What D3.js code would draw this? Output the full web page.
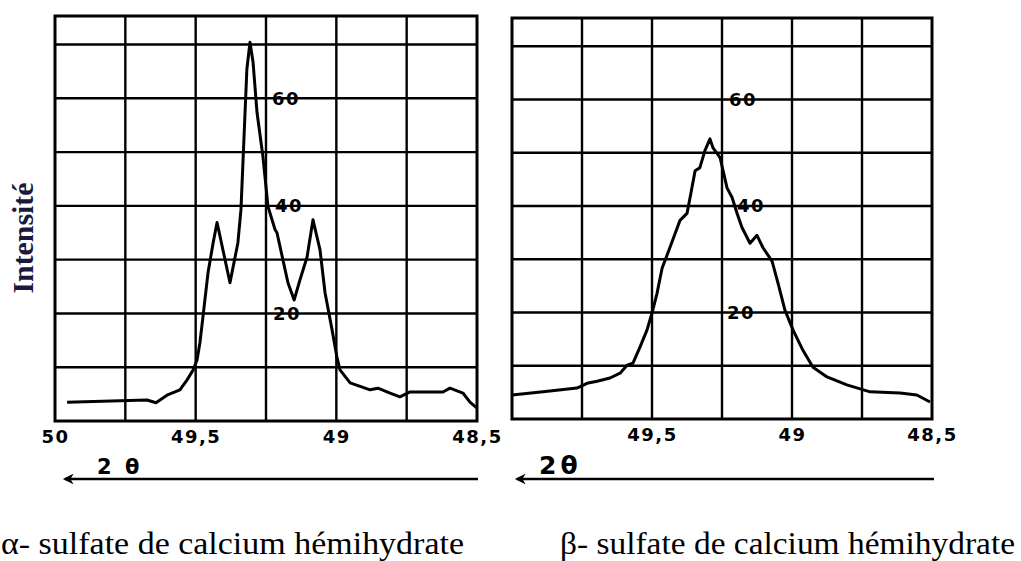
<!DOCTYPE html>
<html><head><meta charset="utf-8">
<script src="https://cdn.jsdelivr.net/npm/d3@7"></script>
<style>body{margin:0;background:#fff;} svg{display:block}
.serif{font-family:"Liberation Serif","Times New Roman",Times,"DejaVu Serif",serif;}
</style>
</head><body>
<svg id="c" width="1021" height="561"></svg>
<script>
// ---- data ----
const alphaTheta = [49.957,49.80,49.673,49.641,49.602,49.556,49.531,49.509,49.495,49.485,49.474,49.456,49.438,49.424,49.378,49.350,49.339,49.332,49.318,49.307,49.296,49.282,49.261,49.243,49.218,49.211,49.190,49.172,49.150,49.129,49.104,49.083,49.058,49.040,49.015,48.998,48.987,48.951,48.880,48.852,48.809,48.774,48.738,48.621,48.596,48.550,48.525,48.500];
const alphaIntensity = [3.5,3.7,3.9,3.4,4.8,5.8,7.6,9.5,11.4,14.5,19.4,27.6,33.1,36.9,25.7,33.1,39.3,48.0,65.4,70.4,66.7,57.4,49.2,39.9,35.6,35.0,30.0,25.7,22.5,26.3,30.5,37.4,31.8,23.8,16.9,11.9,9.5,7.1,5.8,6.1,5.2,4.5,5.4,5.4,6.1,5.2,3.5,2.4];
const betaTheta = [50.0,49.889,49.768,49.732,49.696,49.650,49.614,49.589,49.568,49.543,49.518,49.500,49.482,49.464,49.436,49.400,49.375,49.364,49.346,49.329,49.311,49.293,49.282,49.257,49.246,49.232,49.214,49.196,49.179,49.150,49.125,49.104,49.071,49.050,49.025,48.996,48.961,48.925,48.875,48.804,48.721,48.614,48.554,48.507];
const betaIntensity = [4.5,5.1,5.8,6.7,7.1,7.7,8.6,10.1,10.5,13.5,16.7,19.9,23.6,28.3,32.2,37.3,38.6,41.6,46.6,47.2,50.4,52.6,50.9,49.1,46.6,43.4,41.6,38.6,36.0,33.0,34.5,32.2,29.6,25.5,20.4,16.7,12.9,9.7,7.9,6.4,5.1,4.9,4.5,3.2];
const gridTheta = [49.75, 49.5, 49.25, 49, 48.75];
const gridIntensity = [10, 20, 30, 40, 50, 60, 70];
const leftTickValues = [50, 49.5, 49, 48.5];
const leftTickLabels = ["50", "49,5", "49", "48,5"];
const rightTickValues = [49.5, 49, 48.5];
const rightTickLabels = ["49,5", "49", "48,5"];
const innerLabelValues = [60, 40, 20];
const innerLabelTexts = ["60", "40", "20"];
const axisTitle = "Intensité";
const captions = ["α- sulfate de calcium hémihydrate", "β- sulfate de calcium hémihydrate"];
const xTitle = ["2 θ", "2θ"];

// ---- drawing ----
const svg = d3.select("#c");
const panels = [
  {x0:55, x1:477, y0:16, y1:421, theta:alphaTheta, inten:alphaIntensity,
   tv:leftTickValues, tl:leftTickLabels, ldx:[6,9,7], arrow:[57,478], tx:97, tfs:21, tls:3},
  {x0:512, x1:932, y0:18, y1:419, theta:betaTheta, inten:betaIntensity,
   tv:rightTickValues, tl:rightTickLabels, ldx:[7,15,5], arrow:[509,934], tx:539, tfs:25, tls:4}
];

svg.append("defs").append("marker")
  .attr("id","ah").attr("viewBox","0 0 10 10").attr("refX",8).attr("refY",5)
  .attr("markerWidth",6).attr("markerHeight",4.5).attr("orient","auto")
  .attr("markerUnits","strokeWidth")
  .append("path").attr("d","M10,5 L0,0 L3,5 L0,10 Z").attr("fill","#000");

panels.forEach((p, i) => {
  const x = d3.scaleLinear().domain([50, 48.5]).range([p.x0, p.x1]);
  const y = d3.scaleLinear().domain([0, 75.3]).range([p.y1, p.y0]);
  const g = svg.append("g");

  // grid
  g.selectAll("line.v").data(gridTheta).join("line")
    .attr("x1", d => x(d)).attr("x2", d => x(d))
    .attr("y1", p.y0).attr("y2", p.y1)
    .attr("stroke", "#000").attr("stroke-width", 2.4);
  g.selectAll("line.h").data(gridIntensity).join("line")
    .attr("x1", p.x0).attr("x2", p.x1)
    .attr("y1", d => y(d)).attr("y2", d => y(d))
    .attr("stroke", "#000").attr("stroke-width", 2.4);
  g.append("rect").attr("x", p.x0).attr("y", p.y0)
    .attr("width", p.x1 - p.x0).attr("height", p.y1 - p.y0)
    .attr("fill", "none").attr("stroke", "#000").attr("stroke-width", 3);

  // inner intensity labels
  g.selectAll("text.il").data(innerLabelValues).join("text")
    .attr("x", (d, k) => x(49.25) + p.ldx[k]).attr("y", d => y(d))
    .attr("dy", "0.36em")
    .attr("font-family", "DejaVu Sans").attr("font-weight", "bold")
    .attr("font-size", 18).attr("letter-spacing", 1.5).attr("fill", "#000")
    .text((d, k) => innerLabelTexts[k]);

  // curve
  const pts = p.theta.map((t, k) => [t, p.inten[k]]);
  g.append("path").datum(pts)
    .attr("d", d3.line().x(d => x(d[0])).y(d => y(d[1])))
    .attr("fill", "none").attr("stroke", "#000").attr("stroke-width", 3)
    .attr("stroke-linejoin", "round");

  // x tick labels
  const ax = d3.axisBottom(x).tickValues(p.tv).tickSize(0).tickPadding(0)
    .tickFormat((d, k) => p.tl[k]);
  const axg = g.append("g").attr("transform", `translate(0,${p.y1 + 8})`).call(ax);
  axg.select(".domain").remove();
  axg.selectAll("text").attr("font-family", "DejaVu Sans").attr("font-weight", "bold")
    .attr("font-size", 18).attr("letter-spacing", 1.5).attr("fill", "#000").attr("dy", "0.75em");

  // 2θ arrow
  g.append("line").attr("x1", p.arrow[1]).attr("x2", p.arrow[0] + 8)
    .attr("y1", 479).attr("y2", 479)
    .attr("stroke", "#000").attr("stroke-width", 2.4).attr("marker-end", "url(#ah)");
  g.append("text").attr("x", p.tx).attr("y", 474)
    .attr("font-family", "DejaVu Sans").attr("font-weight", "bold")
    .attr("letter-spacing", p.tls)
    .attr("font-size", p.tfs).attr("fill", "#000").text(xTitle[i]);
});

// y title
svg.append("text").attr("class", "serif").attr("transform", "translate(33,238) rotate(-90)")
  .attr("text-anchor", "middle").attr("font-weight", "bold")
  .attr("font-size", 29).attr("fill", "#1a1a3c")
  .attr("textLength", 111).attr("lengthAdjust", "spacingAndGlyphs")
  .text(axisTitle);

// captions
svg.append("text").attr("class", "serif").attr("x", 1).attr("y", 554)
  .attr("font-size", 32).attr("fill", "#000")
  .attr("textLength", 463).attr("lengthAdjust", "spacingAndGlyphs")
  .text(captions[0]);
svg.append("text").attr("class", "serif").attr("x", 560).attr("y", 554)
  .attr("font-size", 32).attr("fill", "#000")
  .attr("textLength", 455).attr("lengthAdjust", "spacingAndGlyphs")
  .text(captions[1]);
</script>
</body></html>
